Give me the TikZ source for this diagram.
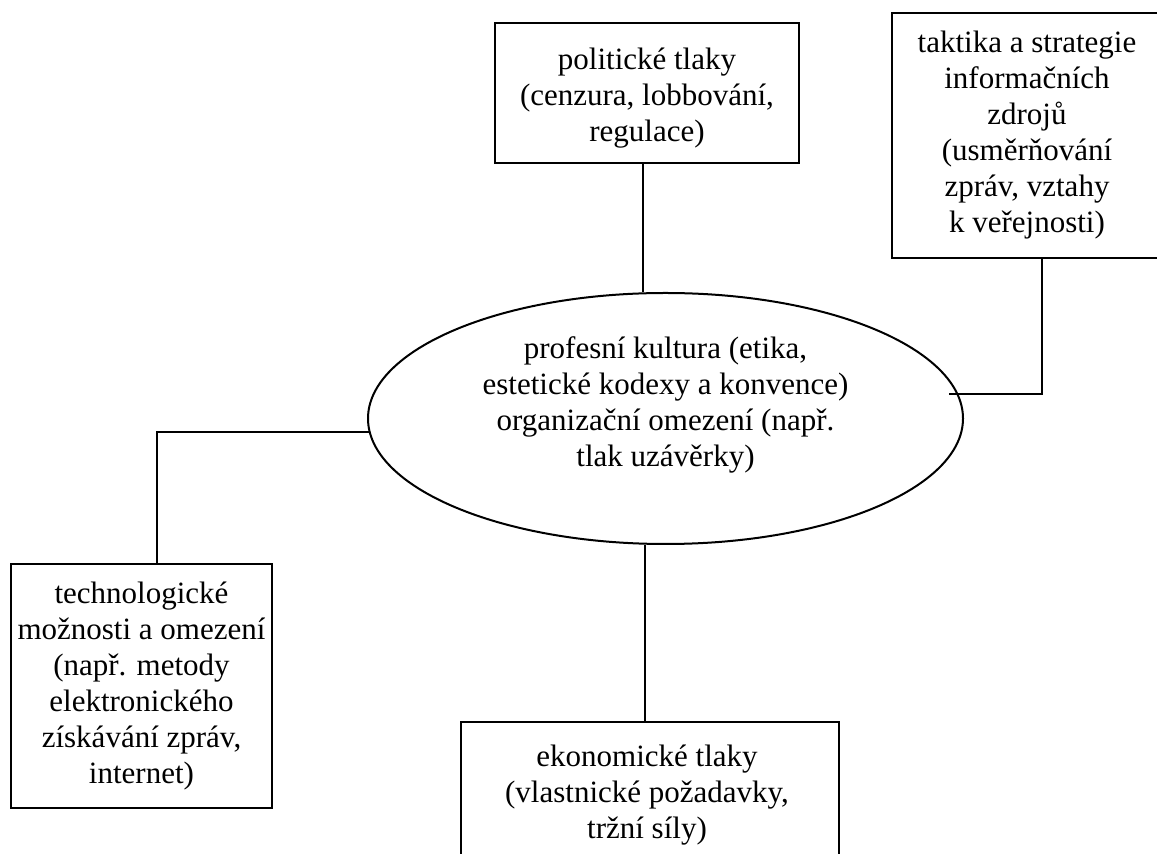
\documentclass[tikz,border=0pt]{standalone}
\usepackage{fontspec}
\setmainfont{Liberation Serif}
\usetikzlibrary{shapes.geometric}
\begin{document}
\begin{tikzpicture}[x=0.5pt,y=-0.5pt,
  txt/.style={align=center, inner sep=0pt, font=\fontsize{15.5}{18}\selectfont},
  box/.style={txt, draw, line width=1pt, rectangle},
  ellbox/.style={draw, line width=1pt, ellipse, inner sep=0pt},
  conn/.style={line width=1pt}]
\useasboundingbox (0,0) rectangle (1157,854);
% boxes
\node[box, minimum width=152pt, minimum height=70pt] (pol) at (647,93) {};
\node[txt] (poltxt) at (647,98)
  {politické tlaky\\(cenzura, lobbování,\\regulace)};
\node[box, minimum width=135pt, minimum height=122.5pt] (tak) at (1027,135.5)
  {taktika a strategie\\informačních\\zdrojů\\(usměrňování\\zpráv, vztahy\\k veřejnosti)};
\node[box, minimum width=130.5pt, minimum height=122pt] (tech) at (141.5,686)
  {technologické\\možnosti a omezení\\(např. metody\\elektronického\\získávání zpráv,\\internet)};
\node[box, minimum width=189pt, minimum height=70pt] (eko) at (650,792) {};
\node[txt] (ekotxt) at (647,795)
  {ekonomické tlaky\\(vlastnické požadavky,\\tržní síly)};
% ellipse
\node[ellbox, minimum width=297.5pt, minimum height=125.5pt] (ell) at (665.5,418.5) {};
\node[txt] (elltxt) at (665.5,405)
  {profesní kultura (etika,\\estetické kodexy a konvence)\\organizační omezení (např.\\tlak uzávěrky)};
% connectors
\coordinate (rjoin) at (949,394);
\coordinate (ljoin) at (369,432);
\draw[conn] ([xshift=-2pt]pol.south) -- ([xshift=-2pt]pol.south |- ell.north);
\draw[conn] ([xshift=7.5pt]tak.south) |- (rjoin);
\draw[conn] ([xshift=7.75pt]tech.north) |- (ljoin);
\draw[conn] (ell.south -| eko.north) ++(-2.5pt,0) -- ([xshift=-2.5pt]eko.north);
\end{tikzpicture}
\end{document}
